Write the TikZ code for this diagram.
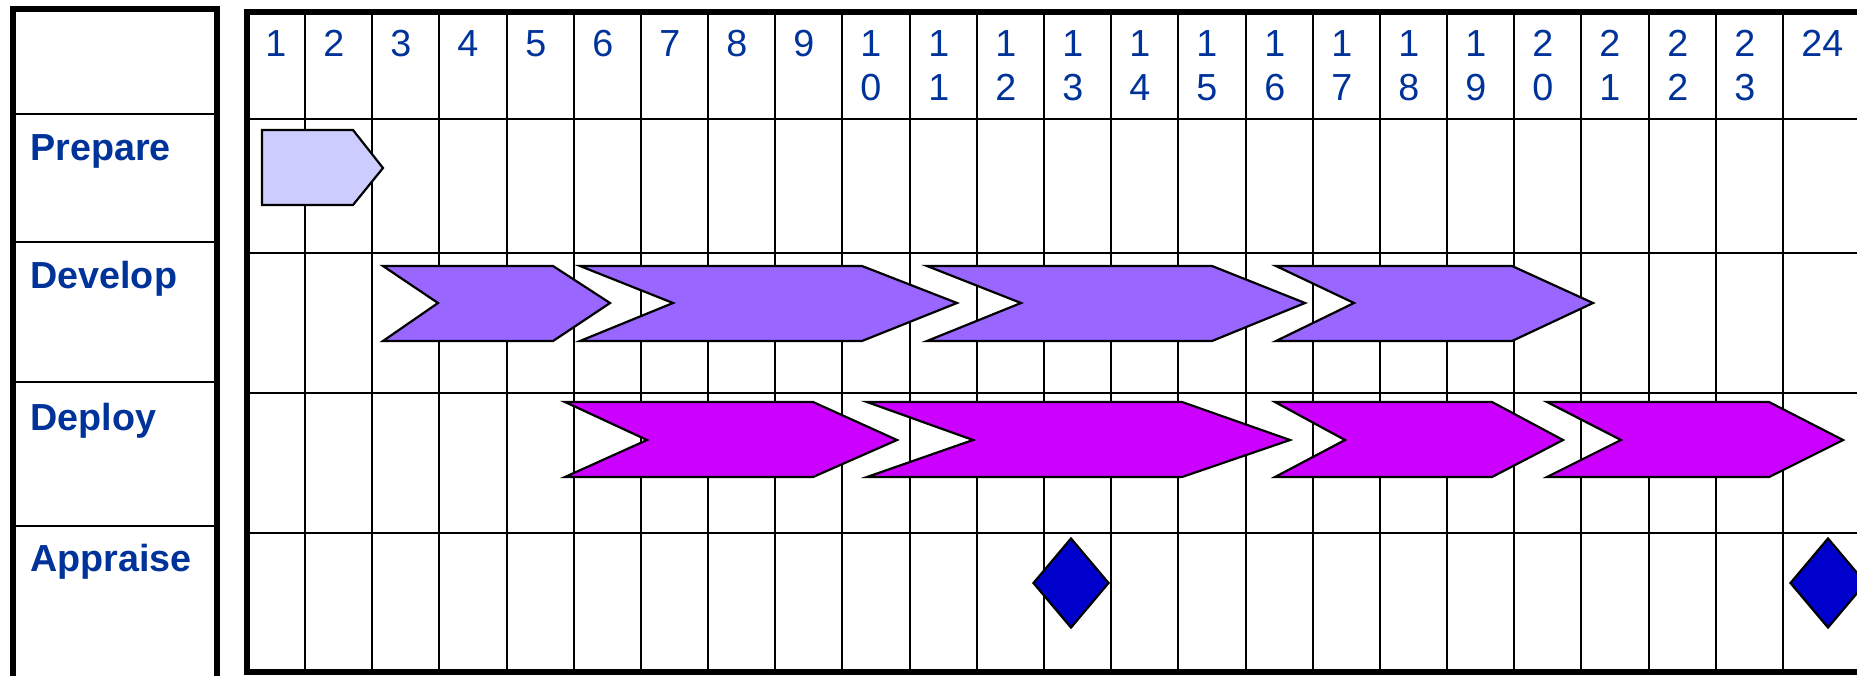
\documentclass[tikz,border=0pt]{standalone}
\usepackage{fontspec}
\setmainfont{Liberation Sans}
\usepackage{tikz}
\usetikzlibrary{shapes.geometric}

\definecolor{labelblue}{HTML}{003399}
\definecolor{prepfill}{HTML}{CCCCFF}
\definecolor{devfill}{HTML}{9966FF}
\definecolor{depfill}{HTML}{CC00FF}
\definecolor{mileblue}{HTML}{0000CC}

\begin{document}
\begin{tikzpicture}[
        x=0.5pt, y=-0.5pt,
        frame/.style={draw=black, line width=2.6pt},
        gridline/.style={draw=black, line width=1.25pt},
        num/.style={anchor=north west, inner sep=0pt, text=labelblue, align=left, font=\fontsize{18.85}{22}\selectfont},
        phase/.style={anchor=base west, inner sep=0pt, text=labelblue, font=\fontsize{18.85}{22}\selectfont\bfseries},
        prepshape/.style={draw=black, line width=1.1pt, fill=prepfill},
        devshape/.style={draw=black, line width=1.1pt, fill=devfill},
        depshape/.style={draw=black, line width=1.1pt, fill=depfill},
        milestone/.style={diamond, draw=black, line width=1.1pt, fill=mileblue, inner sep=0pt, minimum width=38pt, minimum height=45pt}
    ]

        \useasboundingbox (0,0) rectangle (1857,675);
        \clip (0,0) rectangle (1857,675);

        % Phase column
        \draw[gridline] (13,114) -- (217,114);
        \draw[gridline] (13,242) -- (217,242);
        \draw[gridline] (13,382) -- (217,382);
        \draw[gridline] (13,526) -- (217,526);
        \draw[frame] (13,9) rectangle (217,720);

        \node[phase] (prepare_label) at (30,160) {Prepare};
        \node[phase] (develop_label) at (30,288) {Develop};
        \node[phase] (deploy_label) at (30,430) {Deploy};
        \node[phase] (appraise_label) at (30,571) {Appraise};

        % Time grid - rows
        \draw[gridline] (247,119) -- (1900,119);
        \draw[gridline] (247,253) -- (1900,253);
        \draw[gridline] (247,393) -- (1900,393);
        \draw[gridline] (247,533) -- (1900,533);

        % Time grid - columns
        \draw[gridline] (305,12) -- (305,672);
        \draw[gridline] (372,12) -- (372,672);
        \draw[gridline] (439,12) -- (439,672);
        \draw[gridline] (507,12) -- (507,672);
        \draw[gridline] (574,12) -- (574,672);
        \draw[gridline] (641,12) -- (641,672);
        \draw[gridline] (708,12) -- (708,672);
        \draw[gridline] (775,12) -- (775,672);
        \draw[gridline] (842,12) -- (842,672);
        \draw[gridline] (910,12) -- (910,672);
        \draw[gridline] (977,12) -- (977,672);
        \draw[gridline] (1044,12) -- (1044,672);
        \draw[gridline] (1111,12) -- (1111,672);
        \draw[gridline] (1178,12) -- (1178,672);
        \draw[gridline] (1246,12) -- (1246,672);
        \draw[gridline] (1313,12) -- (1313,672);
        \draw[gridline] (1380,12) -- (1380,672);
        \draw[gridline] (1447,12) -- (1447,672);
        \draw[gridline] (1514,12) -- (1514,672);
        \draw[gridline] (1581,12) -- (1581,672);
        \draw[gridline] (1649,12) -- (1649,672);
        \draw[gridline] (1716,12) -- (1716,672);
        \draw[gridline] (1783,12) -- (1783,672);

        % Week numbers
        \node[num] (w1) at (265,30) {1};
        \node[num] (w2) at (323,30) {2};
        \node[num] (w3) at (390,30) {3};
        \node[num] (w4) at (457,30) {4};
        \node[num] (w5) at (525,30) {5};
        \node[num] (w6) at (592,30) {6};
        \node[num] (w7) at (659,30) {7};
        \node[num] (w8) at (726,30) {8};
        \node[num] (w9) at (793,30) {9};
        \node[num] (w10) at (860,30) {1\\0};
        \node[num] (w11) at (928,30) {1\\1};
        \node[num] (w12) at (995,30) {1\\2};
        \node[num] (w13) at (1062,30) {1\\3};
        \node[num] (w14) at (1129,30) {1\\4};
        \node[num] (w15) at (1196,30) {1\\5};
        \node[num] (w16) at (1264,30) {1\\6};
        \node[num] (w17) at (1331,30) {1\\7};
        \node[num] (w18) at (1398,30) {1\\8};
        \node[num] (w19) at (1465,30) {1\\9};
        \node[num] (w20) at (1532,30) {2\\0};
        \node[num] (w21) at (1599,30) {2\\1};
        \node[num] (w22) at (1667,30) {2\\2};
        \node[num] (w23) at (1734,30) {2\\3};
        \node[num] (w24) at (1801,30) {24};

        % Prepare
        \draw[prepshape] (262,130) -- (353,130) -- (383,168) -- (353,205) -- (262,205) -- cycle;

        % Develop
        \draw[devshape] (383,266) -- (553,266) -- (610,303) -- (553,341) -- (383,341) -- (438,303) -- cycle;
        \draw[devshape] (580,266) -- (862,266) -- (957,303) -- (862,341) -- (580,341) -- (673,303) -- cycle;
        \draw[devshape] (927,266) -- (1212,266) -- (1305,303) -- (1212,341) -- (927,341) -- (1021,303) -- cycle;
        \draw[devshape] (1276,266) -- (1512,266) -- (1593,303) -- (1512,341) -- (1276,341) -- (1354,303) -- cycle;

        % Deploy
        \draw[depshape] (565,402) -- (813,402) -- (897,440) -- (813,477) -- (565,477) -- (647,440) -- cycle;
        \draw[depshape] (867,402) -- (1182,402) -- (1290,440) -- (1182,477) -- (867,477) -- (973,440) -- cycle;
        \draw[depshape] (1275,402) -- (1492,402) -- (1563,440) -- (1492,477) -- (1275,477) -- (1345,440) -- cycle;
        \draw[depshape] (1547,402) -- (1769,402) -- (1843,440) -- (1769,477) -- (1547,477) -- (1621,440) -- cycle;

        % Appraise
        \node[milestone] (review1) at (1071,583) {};
        \node[milestone] (review2) at (1828,583) {};

        % Time grid - frame
        \draw[frame] (247,12) rectangle (1950,672);

    \end{tikzpicture}
\end{document}
